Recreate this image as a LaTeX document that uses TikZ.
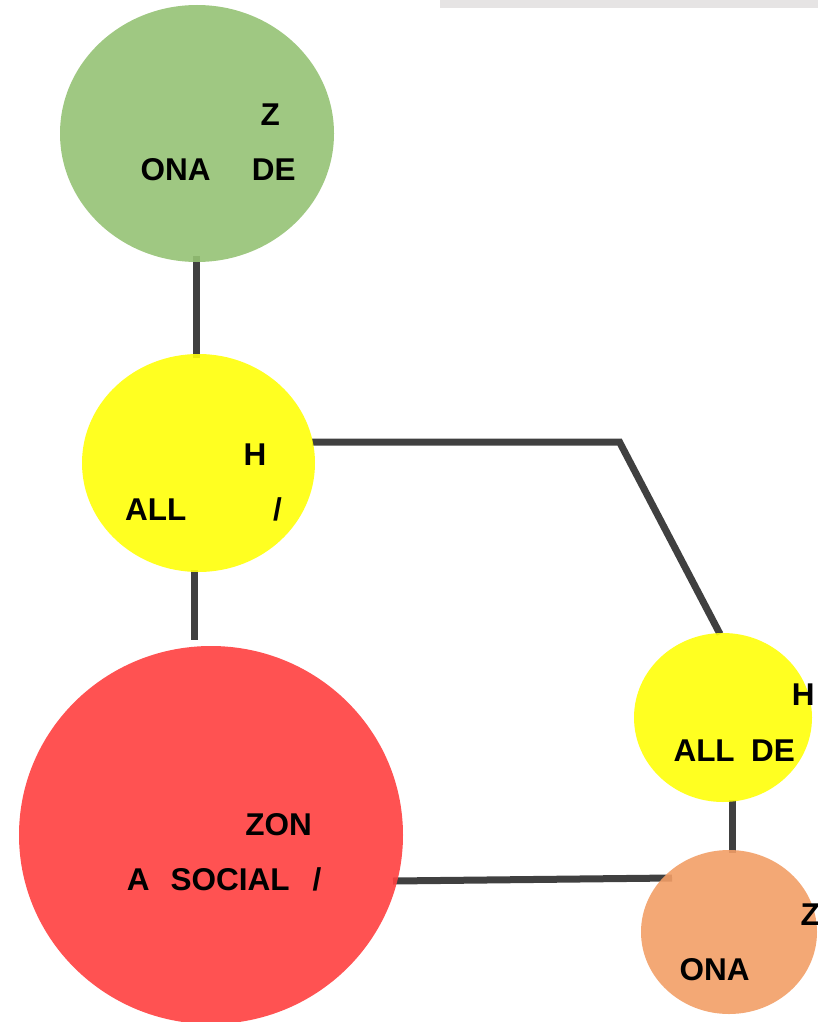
\documentclass[tikz,border=0pt]{standalone}
\usepackage{fontspec}
\setmainfont{Liberation Sans}
\usetikzlibrary{shapes.geometric,backgrounds}
\definecolor{cgreen}{RGB}{149,194,116}
\definecolor{cyellow}{RGB}{255,255,9}
\definecolor{cred}{RGB}{255,63,63}
\definecolor{corange}{RGB}{242,158,102}
\definecolor{linkgray}{RGB}{64,64,64}
\definecolor{bargray}{RGB}{230,228,228}
\begin{document}
\begin{tikzpicture}[x=1pt,y=-1pt,
  bubble/.style={ellipse, inner sep=0pt, draw=none, fill opacity=0.9},
  link/.style={line width=7pt, draw=linkgray},
  lbl/.style={anchor=base west, inner sep=0pt, text=black,
    font=\fontsize{31.5pt}{31.5pt}\selectfont\bfseries}]
\useasboundingbox (0,0) rectangle (818,1022);
\fill[bargray] (440,0) rectangle (818,8);

% circles
\node[bubble, fill=cgreen,  minimum width=274pt, minimum height=257pt] (g)  at (197,133.5) {};
\node[bubble, fill=cyellow, minimum width=233pt, minimum height=218pt] (y1) at (198.5,463) {};
\node[bubble, fill=cred,    minimum width=384pt, minimum height=378pt] (r)  at (211,835) {};
\node[bubble, fill=cyellow, minimum width=178pt, minimum height=169pt] (y2) at (723,717.5) {};
\node[bubble, fill=corange, minimum width=176pt, minimum height=164pt] (o)  at (729,932) {};

% connector end points
\coordinate (gy) at ([xshift=-1pt,yshift=6pt]g.south);
\coordinate (yg) at ([xshift=-2.5pt,yshift=-4pt]y1.north);
\coordinate (ydown) at ([xshift=-4.5pt,yshift=2pt]y1.south);
\coordinate (rtop) at (ydown |- 0,640);
\coordinate (yright) at (312,442);
\coordinate (bend) at (619.5,442);
\coordinate (y2top) at (720,634);
\coordinate (y2bot) at ([xshift=9pt,yshift=2pt]y2.south);
\coordinate (otop) at ([xshift=3pt,yshift=-3pt]o.north);
\coordinate (redge) at (393,881);
\coordinate (oedge) at (672,878);
\begin{scope}[on background layer]
  \draw[link] (gy) -- (yg);
  \draw[link] (ydown) -- (rtop);
  \draw[link] (yright) -- (bend) -- (y2top);
  \draw[link] (y2bot) -- (otop);
  \draw[link] (redge) -- (oedge);
\end{scope}

% labels
\node[lbl] (g1) at (260.5,125) {Z};
\node[lbl] (g2) at (140.5,180) {ONA};
\node[lbl] (g3) at (251.7,180) {DE};

\node[lbl] (a1) at (243.4,465.7) {H};
\node[lbl] (a2) at (125,520.7) {ALL};
\node[lbl] (a3) at (273,520.7) {/};

\node[lbl] (b1) at (791.7,705.7) {H};
\node[lbl] (b2) at (673.3,761.7) {ALL};
\node[lbl] (b3) at (751,761.7) {DE};

\node[lbl] (c1) at (245.2,835) {ZON};
\node[lbl] (c2) at (126.7,890) {A};
\node[lbl] (c3) at (170.4,890) {SOCIAL};
\node[lbl] (c4) at (312.3,890) {/};

\node[lbl] (d1) at (800.5,925) {Z};
\node[lbl] (d2) at (679.5,980) {ONA};
\end{tikzpicture}
\end{document}
